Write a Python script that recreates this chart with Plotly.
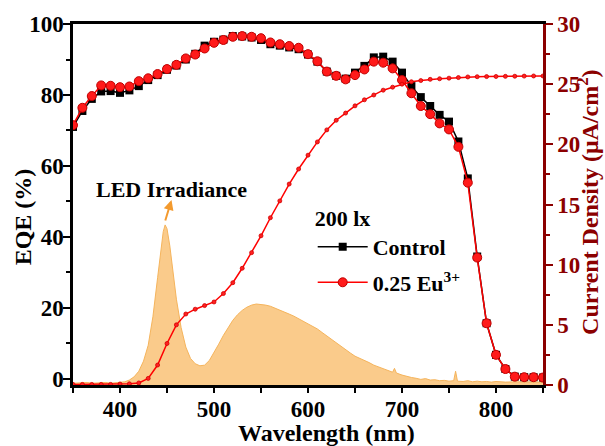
import plotly.graph_objects as go

# ---- EQE spectra (10 nm steps) ----
wl_eqe = list(range(350, 851, 10))
eqe_control = [71.0, 75.5, 78.9, 81.0, 81.1, 80.6, 81.3, 82.5, 84.2, 85.6,
               87.1, 88.3, 90.0, 91.6, 93.9, 95.0, 95.6, 96.6, 96.5, 96.2,
               95.5, 94.3, 93.9, 93.4, 92.9, 91.4, 89.4, 86.6, 85.4, 84.6,
               86.3, 88.2, 90.6, 90.8, 89.4, 86.3, 82.5, 79.4, 76.9, 74.4,
               72.5, 66.9, 56.5, 34.5, 15.7, 6.8, 2.8, 0.65, 0.5, 0.5, 0.4]
eqe_eu = [71.5, 76.4, 79.7, 82.7, 82.6, 82.2, 82.4, 83.9, 84.7, 85.9,
          87.3, 88.5, 90.3, 91.4, 93.1, 94.7, 95.5, 96.4, 96.6, 96.4,
          96.0, 94.8, 94.3, 93.8, 93.3, 91.5, 89.5, 86.6, 85.4, 84.4,
          85.6, 87.2, 89.4, 89.1, 87.5, 84.2, 80.5, 76.9, 74.6, 72.0,
          70.3, 65.4, 55.3, 34.2, 15.7, 6.8, 2.8, 0.65, 0.5, 0.5, 0.4]

# ---- integrated current density (uA/cm2) ----
current_density = [0.05, 0.05, 0.05, 0.05, 0.05, 0.08, 0.10, 0.17, 0.55, 1.66,
                   3.45, 5.0, 5.9, 6.3, 6.6, 6.9, 7.6, 8.5, 9.7, 11.0,
                   12.4, 13.9, 15.3, 16.7, 17.95, 19.1, 20.2, 21.2, 22.0, 22.6,
                   23.2, 23.7, 24.1, 24.5, 24.75, 25.0, 25.2, 25.3, 25.4, 25.45,
                   25.5, 25.55, 25.6, 25.62, 25.63, 25.64, 25.65, 25.66, 25.67, 25.68, 25.68]

# ---- LED irradiance spectrum (normalised) ----
wl_led = [350, 355, 360, 365, 370, 375, 380, 385, 390, 395,
          400, 405, 410, 415, 420, 425, 430, 435, 440, 443,
          446, 448, 450, 453, 456, 460, 465, 470, 475, 480,
          485, 490, 495, 500, 505, 510, 515, 520, 525, 530,
          535, 540, 545, 550, 555, 560, 565, 570, 575, 580,
          585, 590, 595, 600, 605, 610, 615, 620, 625, 630,
          635, 640, 645, 650, 655, 660, 665, 670, 675, 680,
          685, 690, 692, 694, 700, 705, 710, 715, 720, 725,
          730, 735, 740, 745, 750, 755, 757, 759, 765, 770,
          775, 780, 785, 790, 795, 800, 810, 820, 830, 840, 850]
led_irradiance = [0.011, 0.013, 0.011, 0.016, 0.011, 0.013, 0.011, 0.016, 0.011, 0.013,
                  0.016, 0.020, 0.031, 0.051, 0.086, 0.149, 0.248, 0.426, 0.670, 0.825,
                  0.958, 1.000, 0.976, 0.869, 0.725, 0.536, 0.359, 0.237, 0.166, 0.133,
                  0.120, 0.124, 0.153, 0.200, 0.255, 0.310, 0.359, 0.404, 0.439, 0.466,
                  0.486, 0.499, 0.506, 0.503, 0.499, 0.492, 0.481, 0.470, 0.457, 0.443,
                  0.430, 0.415, 0.399, 0.384, 0.368, 0.350, 0.328, 0.306, 0.286, 0.264,
                  0.242, 0.219, 0.200, 0.180, 0.168, 0.151, 0.140, 0.124, 0.113, 0.100,
                  0.091, 0.080, 0.104, 0.075, 0.062, 0.053, 0.047, 0.042, 0.035, 0.040,
                  0.031, 0.033, 0.027, 0.029, 0.024, 0.027, 0.086, 0.024, 0.022, 0.027,
                  0.020, 0.024, 0.020, 0.022, 0.018, 0.022, 0.018, 0.020, 0.018, 0.020, 0.018]

FONT = "Liberation Serif"
DARK_RED = "#8B0000"
ORANGE_FILL = "#FACB8B"
ORANGE_LINE = "#F5B45C"

fig = go.Figure()

# LED spectrum on a hidden base axis so it sits behind everything else
fig.add_trace(go.Scatter(
    x=wl_led, y=led_irradiance, yaxis="y", mode="lines",
    line=dict(color=ORANGE_LINE, width=1), fill="tozeroy", fillcolor=ORANGE_FILL,
    showlegend=False, hoverinfo="skip"))

# current density (right axis)
fig.add_trace(go.Scatter(
    x=wl_eqe, y=current_density, yaxis="y3", mode="lines+markers",
    line=dict(color="#FF0000", width=1.5),
    marker=dict(symbol="circle", size=4, color="#FF2020", line=dict(color="#D00000", width=0.8)),
    showlegend=False))

# EQE curves (left axis)
fig.add_trace(go.Scatter(
    x=wl_eqe, y=eqe_control, yaxis="y2", mode="lines+markers", name="Control",
    legendgroup="ctl",
    line=dict(color="black", width=1.5),
    marker=dict(symbol="square", size=8, color="black")))
fig.add_trace(go.Scatter(
    x=wl_eqe, y=eqe_eu, yaxis="y2", mode="lines+markers", name="0.25 Eu<sup>3+</sup>",
    legendgroup="eu",
    line=dict(color="#FF0000", width=1.5),
    marker=dict(symbol="circle", size=9, color="#FF1A1A", line=dict(color="#C00000", width=1))))

bold22 = dict(family=FONT, size=22, color="black", weight="bold")
tick23 = dict(family=FONT, size=23, color="black", weight="bold")
title24 = dict(family=FONT, size=24, color="black", weight="bold")
title24_red = dict(family=FONT, size=24, color=DARK_RED, weight="bold")

fig.update_layout(
    width=605, height=446,
    margin=dict(l=73, r=62, t=24, b=61),
    paper_bgcolor="white", plot_bgcolor="white",
    font=dict(family=FONT, size=22, color="black"),
    xaxis=dict(
        range=[350, 850], tick0=400, dtick=100, automargin=False,
        showline=True, linecolor="black", linewidth=2.5, mirror=True,
        ticks="outside", ticklen=5, tickwidth=2, tickcolor="black",
        minor=dict(dtick=50, tick0=350, ticks="outside", ticklen=5, tickwidth=2, tickcolor="black"),
        showgrid=False, zeroline=False, tickfont=tick23, ticklabelstandoff=-3),
    yaxis=dict(range=[0, 2.255], visible=False, showgrid=False, zeroline=False),
    yaxis2=dict(
        overlaying="y", side="left", anchor="x", automargin=False,
        range=[-1.7, 100], tick0=0, dtick=20,
        showline=True, linecolor="black", linewidth=2.5,
        ticks="outside", ticklen=7, tickwidth=2, tickcolor="black",
        minor=dict(dtick=10, tick0=0, ticks="outside", ticklen=4, tickwidth=2, tickcolor="black"),
        showgrid=False, zeroline=False, tickfont=tick23, ticklabelstandoff=-5),
    yaxis3=dict(
        overlaying="y", side="right", anchor="x", automargin=False,
        range=[0, 30], tick0=0, dtick=5,
        showline=True, linecolor=DARK_RED, linewidth=2.5,
        ticks="outside", ticklen=7, tickwidth=2, tickcolor=DARK_RED,
        minor=dict(dtick=2.5, tick0=0, ticks="outside", ticklen=4, tickwidth=2, tickcolor=DARK_RED),
        showgrid=False, zeroline=False, ticklabelstandoff=0,
        tickfont=dict(family=FONT, size=23, color=DARK_RED, weight="bold")),
    legend=dict(
        x=0.51, y=0.52, xanchor="left", yanchor="top",
        bgcolor="rgba(0,0,0,0)", borderwidth=0,
        title=dict(text="200 lx", font=bold22),
        font=bold22, itemwidth=50, tracegroupgap=4),
    annotations=[
        # axis titles
        dict(x=0.539, y=-0.133, xref="paper", yref="paper", text="Wavelength (nm)",
             showarrow=False, font=title24, xanchor="center", yanchor="middle"),
        dict(x=-0.106, y=0.465, xref="paper", yref="paper", text="EQE (%)",
             showarrow=False, font=title24, textangle=-90, xanchor="center", yanchor="middle"),
        dict(x=1.097, y=0.506, xref="paper", yref="paper",
             text="Current Density (μA/cm<sup>2</sup>)",
             showarrow=False, font=title24_red, textangle=-90, xanchor="center", yanchor="middle"),
        # LED label and pointer
        dict(x=454.8, y=50.4, xref="x", yref="y2", ax=447.7, ay=44.2,
             axref="x", ayref="y2", text="", showarrow=True,
             arrowhead=2, arrowsize=1, arrowwidth=2, arrowcolor="#F39A2E"),
        dict(x=454.8, y=53.5, xref="x", yref="y2", text="LED Irradiance",
             showarrow=False, font=bold22),
    ],
)

fig.write_html("out.html")
